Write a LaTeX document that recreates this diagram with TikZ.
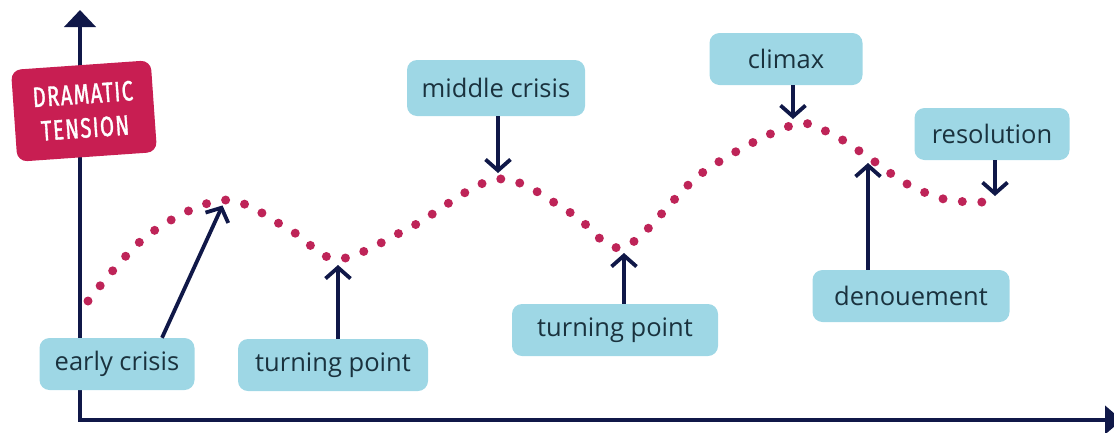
\documentclass[tikz,border=0pt]{standalone}
\usepackage{fontspec}
\setsansfont{Open Sans}
\newfontfamily\tensionfont{Fira Sans}[FakeStretch=0.72, LetterSpace=5, FakeBold=1.3]
\usetikzlibrary{arrows.meta}
\definecolor{axisnavy}{RGB}{16,24,72}
\definecolor{tensionred}{RGB}{200,30,82}
\definecolor{dotred}{RGB}{190,36,88}
\definecolor{stagefill}{RGB}{158,215,229}
\definecolor{stagetext}{RGB}{26,50,62}
\tikzset{
	stage/.style={fill=stagefill, rounded corners=10pt, minimum height=52pt, text=stagetext, font=\sffamily\fontsize{25.5}{28}\selectfont},
	pointer/.style={draw=axisnavy, line width=3.8pt, -{Straight Barb[length=11pt,width=25pt]}, shorten >=6pt},
	tensiondots/.style={draw=dotred, line width=9pt, line cap=round, dash pattern=on 0pt off 19.5pt},
}
\begin{document}
\begin{tikzpicture}[x=1pt,y=-1pt]
	\useasboundingbox (0,0) rectangle (1114,432);
	% axes
	\coordinate (origin) at (80,420);
	\coordinate (ytop) at (80,10);
	\coordinate (xend) at (1122,420);
	\draw [axisnavy, line width=4.5pt, {Triangle[length=17pt,width=31pt]}-{Triangle[length=17pt,width=28pt]}] (ytop) -- (origin) -- (xend);
	% points on the curve
	\coordinate (pkA) at (225,200);
	\coordinate (vlA) at (338,259);
	\coordinate (pkB) at (498,179);
	\coordinate (vlB) at (624,247);
	\coordinate (pkC) at (793,125);
	\coordinate (infl) at (868,157);
	\coordinate (endp) at (995,202);
	\draw [tensiondots] plot [smooth, tension=0.55] coordinates {(88,301) (148,235) (pkA) (290,230) (vlA) (411,227) (pkB) (571,213) (vlB) (702,173) (pkC) (833,135) (infl) (907,184) (948,200) (endp)};
	% labels
	\node [fill=tensionred, rounded corners=10pt, rotate=4, minimum width=140pt, minimum height=92pt, align=center, text=white, font=\tensionfont\fontsize{28}{34}\selectfont] (tension) at (84,111) {DRAMATIC\\TENSION};
	\node [stage, minimum width=155pt] (early) at (117,364) {early crisis};
	\node [stage, minimum width=190pt] (turnA) at (333,365) {turning point};
	\node [stage, minimum width=178pt, minimum height=56pt] (middle) at (496,88) {middle crisis};
	\node [stage, minimum width=206pt] (turnB) at (615,330) {turning point};
	\node [stage, minimum width=153pt] (climax) at (786,59) {climax};
	\node [stage, minimum width=155pt] (resolution) at (992,134) {resolution};
	\node [stage, minimum width=197pt] (denouement) at (911,296) {denouement};
	% pointers
	\draw [pointer] ([xshift=45pt]early.north) -- (pkA);
	\draw [pointer] (vlA |- turnA.north) -- (vlA);
	\draw [pointer] (pkB |- middle.south) -- (pkB);
	\draw [pointer] (vlB |- turnB.north) -- (vlB);
	\draw [pointer] (pkC |- climax.south) -- (pkC);
	\draw [pointer] (endp |- resolution.south) -- (endp);
	\draw [pointer] (infl |- denouement.north) -- (infl);
\end{tikzpicture}
\end{document}
